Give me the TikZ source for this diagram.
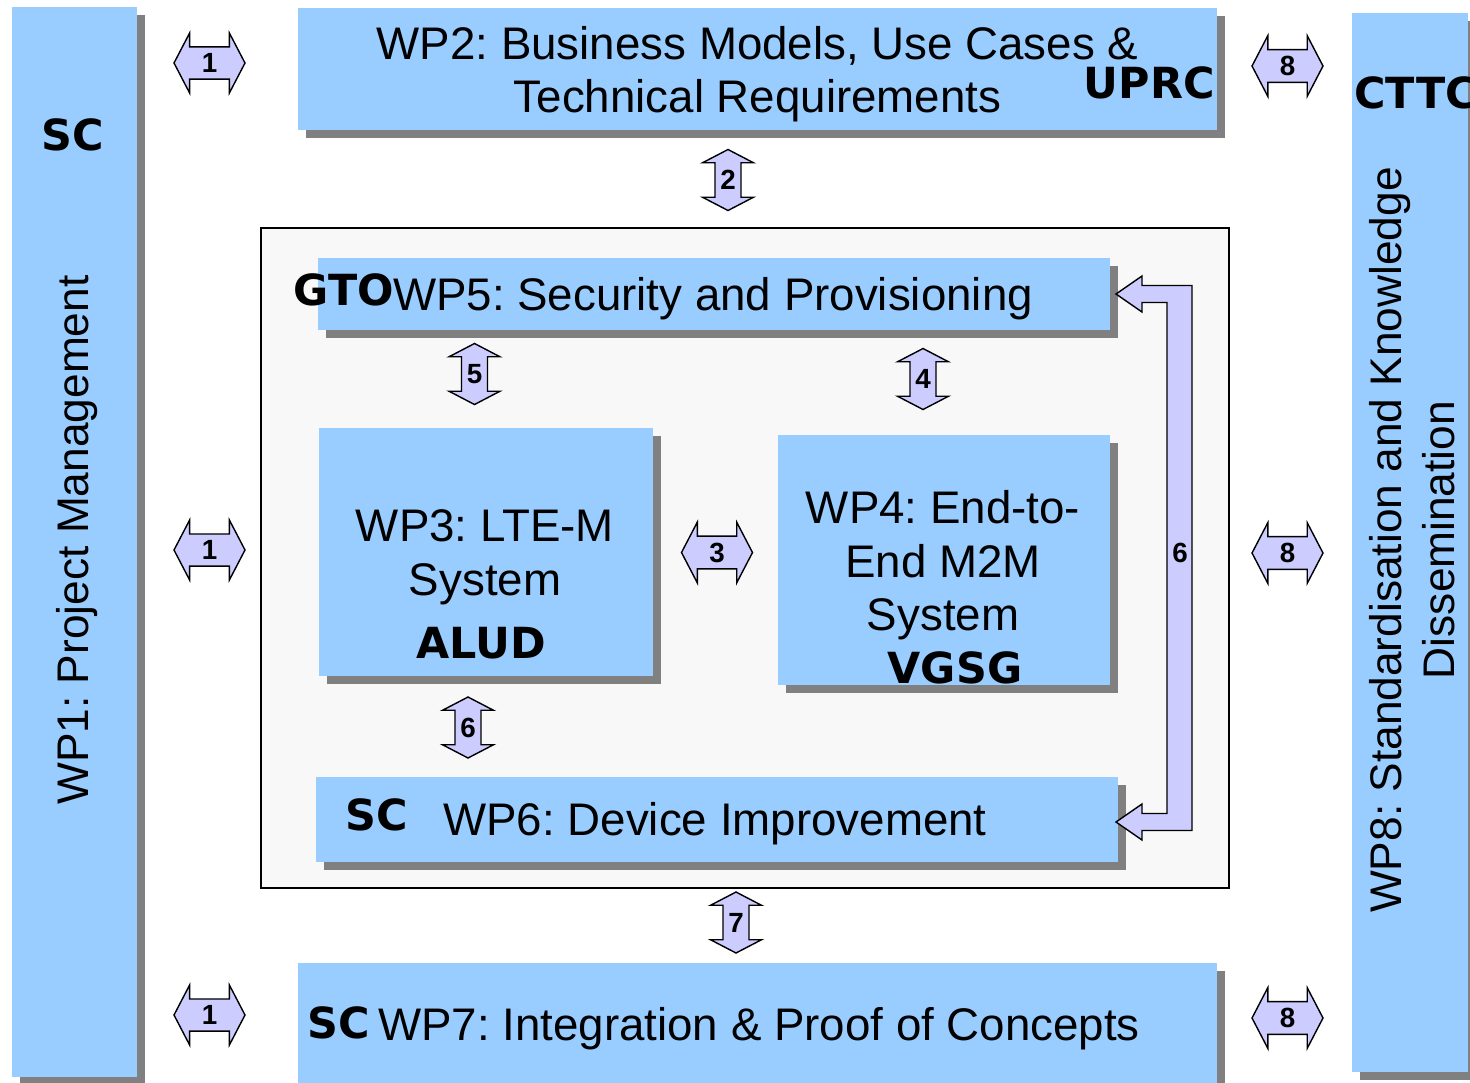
\documentclass[tikz,border=0pt]{standalone}
\usepackage{fontspec}
\setmainfont{Liberation Sans}
\newfontfamily\partnerfont{DejaVu Sans}
\usetikzlibrary{shapes.arrows,shadows}
\frenchspacing

\definecolor{boxblue}{HTML}{99CCFF}
\definecolor{shadowgray}{HTML}{808080}
\definecolor{arrowfill}{HTML}{CCCCFF}
\definecolor{panelgray}{HTML}{F8F8F8}

\tikzset{
  wpbox/.style={rectangle, fill=boxblue, inner sep=0pt,
    drop shadow={shadow xshift=0.16cm, shadow yshift=-0.16cm, fill=shadowgray, opacity=1}},
  wptext/.style={align=center, inner sep=0pt, font=\fontsize{26}{30.5}\selectfont},
  sidetext/.style={align=center, inner sep=0pt, rotate=90, font=\fontsize{25.2}{30.5}\selectfont},
  partner/.style={inner sep=0pt, font=\partnerfont\bfseries\fontsize{24.4}{28}\selectfont},
  linkarrow/.style={double arrow, draw=black, line width=0.8pt, fill=arrowfill,
    double arrow head extend=0.28cm, double arrow tip angle=125, inner sep=3.3pt,
    font=\bfseries\fontsize{15.8}{18}\selectfont, minimum height=1.42cm},
  vlinkarrow/.style={linkarrow, shape border rotate=90, minimum height=1.22cm,
    double arrow head extend=0.25cm, inner sep=2.6pt},
  bigarrow/.style={draw=black, line width=0.8pt, fill=arrowfill, line join=miter}
}

\begin{document}
\begin{tikzpicture}[x=0.02cm, y=-0.02cm]
    \useasboundingbox[fill=white] (0,0) rectangle (1470,1082);

    % outer work packages
    \node (wp1) at (74.5,542) [wpbox, minimum width=2.5cm, minimum height=21.4cm] {};
    \node (wp8) at (1410,542.5) [wpbox, minimum width=2.32cm, minimum height=21.18cm] {};
    \node (wp2) at (757.5,69) [wpbox, minimum width=18.38cm, minimum height=2.44cm] {};
    \node (wp7) at (757.5,1024) [wpbox, minimum width=18.38cm, minimum height=2.44cm] {};

    \node (t1) at (77,540) [sidetext] {WP1: Project Management};
    \node (t8) at (1412,540) [sidetext] {WP8: Standardisation and Knowledge\\Dissemination};
    \node (t2) at (757.5,74) [wptext] {WP2: Business Models, Use Cases \&\\Technical Requirements};
    \node (t7) at (759,1028.5) [wptext] {WP7: Integration \& Proof of Concepts};

    % technical core
    \node (panel) at (745,558) [rectangle, draw, fill=panelgray, line width=0.8pt,
        minimum width=19.36cm, minimum height=13.2cm] {};
    \node (wp5) at (714,294) [wpbox, minimum width=15.84cm, minimum height=1.44cm] {};
    \node (wp3) at (486,552) [wpbox, minimum width=6.68cm, minimum height=4.96cm] {};
    \node (wp4) at (944,560) [wpbox, minimum width=6.64cm, minimum height=5cm] {};
    \node (wp6) at (717,819.5) [wpbox, minimum width=16.04cm, minimum height=1.7cm] {};

    \node (t5) at (713,298.5) [wptext] {WP5: Security and Provisioning};
    \node (t3) at (485,557.5) [wptext] {WP3: LTE-M\\System};
    \node (t4) at (943,565.5) [wptext] {WP4: End-to-\\End M2M\\System};
    \node (t6) at (715,823.5) [wptext] {WP6: Device Improvement};

    % partners
    \node (p1) at (73,135) [partner] {SC};
    \node (p2) at (1215,83) [partner, anchor=east] {UPRC};
    \node (p8) at (1354,93) [partner, anchor=west] {CTTC};
    \node (p5) at (344,290) [partner] {GTO};
    \node (p3) at (481,643) [partner] {ALUD};
    \node (p4) at (955,668) [partner] {VGSG};
    \node (p6) at (377,815) [partner] {SC};
    \node (p7) at (339,1023) [partner] {SC};

    % links
    \node (a1) at (209.5,63) [linkarrow] {1};
    \node (b1) at (209.5,550) [linkarrow] {1};
    \node (c1) at (209.5,1015) [linkarrow] {1};
    \node (a8) at (1287.5,66) [linkarrow] {8};
    \node (b8) at (1287.5,553) [linkarrow] {8};
    \node (c8) at (1287.5,1018) [linkarrow] {8};
    \node (l3) at (717,552.5) [linkarrow] {3};
    \node (l2) at (728,180) [vlinkarrow] {2};
    \node (l5) at (474.5,374) [vlinkarrow] {5};
    \node (l4) at (923,379) [vlinkarrow] {4};
    \node (l6) at (468,727.5) [vlinkarrow] {6};
    \node (l7) at (736,922.5) [vlinkarrow] {7};

    \coordinate (e5) at (1116,294);
    \coordinate (e6) at (1116,822);
    \draw[bigarrow] (e5) -- (1142,276) -- (1142,285.5) -- (1192,285.5) -- (1192,830.5)
        -- (1142,830.5) -- (1142,840) -- (e6) -- (1142,804) -- (1142,813.5)
        -- (1167,813.5) -- (1167,302.5) -- (1142,302.5) -- (1142,312) -- cycle;
    \node (l6b) at (1180,553) [font=\bfseries\fontsize{15.8}{18}\selectfont] {6};
\end{tikzpicture}
\end{document}
